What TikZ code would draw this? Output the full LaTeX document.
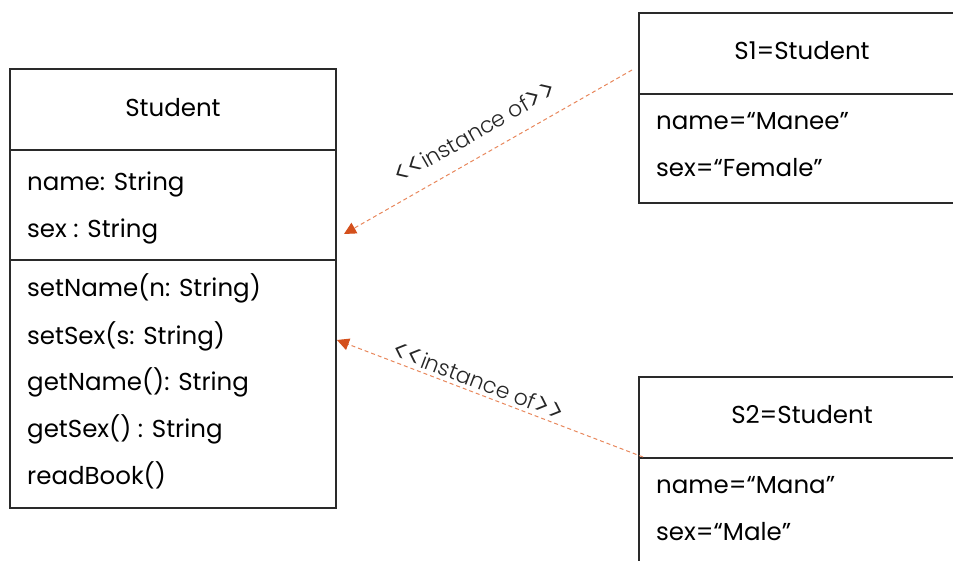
\documentclass[tikz,border=0pt]{standalone}
\usepackage{fontspec}
\setmainfont{Poppins}
\newfontfamily\lightfont{Poppins Light}
\usetikzlibrary{arrows.meta}
\definecolor{linkline}{HTML}{E8875C}
\definecolor{linkhead}{HTML}{D4501C}
\definecolor{boxline}{HTML}{2A2A2A}
% larger guillemet-like angle brackets for the stereotype labels
\newcommand{\bigang}[1]{{\fontsize{31}{31}\selectfont\raisebox{-2.6pt}{#1}}}

\begin{document}
\begin{tikzpicture}[x=1pt,y=-1pt,
  umlbox/.style={draw=boxline,line width=1.5pt},
  field/.style={anchor=base west,inner sep=0pt,font=\fontsize{24.5}{24.5}\selectfont},
  title/.style={anchor=base,inner sep=0pt,font=\fontsize{24.5}{24.5}\selectfont},
  inst/.style={draw=linkline,line width=1pt,dash pattern=on 4pt off 3pt,
    -{Triangle[length=12pt,width=12pt,color=linkhead,fill=linkhead]}},
  lbl/.style={inner sep=0pt,font=\lightfont\fontsize{22}{22}\selectfont,text=black!85}
]
\useasboundingbox (0,0) rectangle (953,561);
\clip (0,0) rectangle (953,561);

% class Student
\draw[umlbox] (10,69) rectangle (336,508);
\draw[umlbox] (10,150) -- (336,150);
\draw[umlbox] (10,260) -- (336,260);
\node[title] (cls) at (173,117) {Student};
\node[field] (f1) at (27,191) {name: String};
\node[field] (f2) at (27,238) {sex : String};
\node[field] (m1) at (27,297) {setName(n: String)};
\node[field] (m2) at (27,344) {setSex(s: String)};
\node[field] (m3) at (27,390) {getName(): String};
\node[field] (m4) at (27,437) {getSex() : String};
\node[field] (m5) at (27,484) {readBook()};

% object S1
\draw[umlbox] (639,13) rectangle (975,203);
\draw[umlbox] (639,94) -- (975,94);
\node[title] (o1) at (802,60) {S1=Student};
\node[field] (o1a) at (656,130) {name=“Manee”};
\node[field] (o1b) at (656,177) {sex=“Female”};

% object S2
\draw[umlbox] (639,377) rectangle (975,600);
\draw[umlbox] (639,458) -- (975,458);
\node[title] (o2) at (802,423) {S2=Student};
\node[field] (o2a) at (656,493) {name=“Mana”};
\node[field] (o2b) at (656,540) {sex=“Male”};

% instance-of links
\coordinate (a1s) at (632,70);
\coordinate (a1t) at (344,234);
\coordinate (a2s) at (643,457);
\coordinate (a2t) at (337,340);
\draw[inst] (a1s) -- (a1t);
\draw[inst] (a2s) -- (a2t);
\node[lbl,rotate=29.7] (l1) at (475,133) {\bigang{<}\bigang{<}instance of\bigang{>}\bigang{>}};
\node[lbl,rotate=-20.9] (l2) at (478,382) {\bigang{<}\bigang{<}instance of\bigang{>}\bigang{>}};
\end{tikzpicture}
\end{document}
